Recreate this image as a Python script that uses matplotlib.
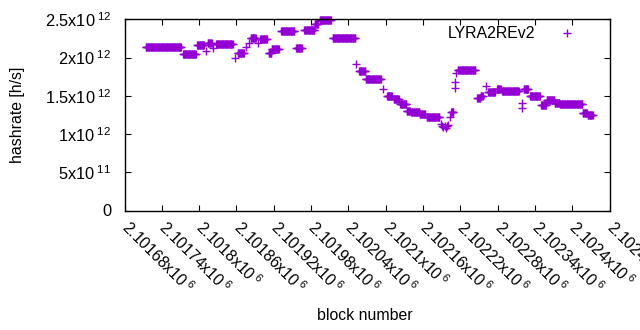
import numpy as np
import matplotlib
matplotlib.use("Agg")
import matplotlib.pyplot as plt
from matplotlib.ticker import FixedLocator, FuncFormatter

plt.rcParams['font.family'] = ['Liberation Sans', 'DejaVu Sans']
plt.rcParams['mathtext.fontset'] = 'custom'
plt.rcParams['mathtext.rm'] = 'Liberation Sans'
plt.rcParams['mathtext.it'] = 'Liberation Sans'
plt.rcParams['mathtext.bf'] = 'Liberation Sans'

# plateaus: start block, end block, hashrate (x1e12 h/s)
seg_start = [2101714, 2101774, 2101797, 2101814, 2101827, 2101862, 2101883, 2101898,
             2101912, 2101917, 2101932, 2101956, 2101969, 2101986, 2101994, 2102015,
             2102057, 2102068, 2102102, 2102113, 2102123, 2102134, 2102141, 2102155,
             2102166, 2102205, 2102216, 2102247, 2102253, 2102265, 2102279, 2102287,
             2102322, 2102332, 2102350, 2102359, 2102372, 2102380, 2102417, 2102425]
seg_end = [2101771, 2101795, 2101808, 2101820, 2101854, 2101872, 2101891, 2101909,
           2101916, 2101928, 2101953, 2101965, 2101985, 2101991, 2102012, 2102051,
           2102067, 2102092, 2102110, 2102121, 2102133, 2102139, 2102154, 2102163,
           2102186, 2102209, 2102244, 2102252, 2102256, 2102276, 2102285, 2102314,
           2102329, 2102348, 2102358, 2102371, 2102379, 2102416, 2102424, 2102433]
seg_value = [2.132, 2.040, 2.162, 2.184, 2.171, 2.053, 2.262, 2.236,
             2.053, 2.106, 2.345, 2.119, 2.358, 2.445, 2.490, 2.249,
             1.822, 1.714, 1.492, 1.452, 1.391, 1.300, 1.283, 1.257,
             1.217, 1.290, 1.835, 1.466, 1.500, 1.544, 1.591, 1.561,
             1.583, 1.496, 1.378, 1.443, 1.408, 1.391, 1.277, 1.247]

# isolated points
pt_block = [2101811, 2101822, 2101858, 2101876, 2101880, 2101895, 2102053, 2102096,
            2102189, 2102191, 2102193, 2102195, 2102197, 2102199, 2102201, 2102203,
            2102211, 2102211, 2102213, 2102262, 2102319, 2102319]
pt_value = [2.083, 2.119, 1.988, 2.140, 2.184, 2.184, 1.920, 1.583,
            1.13, 1.10, 1.09, 1.11, 1.08, 1.10, 1.12, 1.22,
            1.596, 1.682, 1.792, 1.626, 1.404, 1.339]

series_label = "LYRA2REv2"
x_title = "block number"
y_title = "hashrate [h/s]"
x_min, x_max, x_step = 2101680, 2102460, 60
y_ticks = [0, 0.5e12, 1.0e12, 1.5e12, 2.0e12, 2.5e12]

xs, ys = [], []
for s, e, v in zip(seg_start, seg_end, seg_value):
    b = np.arange(s, e + 1)
    xs.append(b)
    ys.append(np.full(len(b), v * 1e12))
xs.append(np.array(pt_block))
ys.append(np.array(pt_value) * 1e12)
x = np.concatenate(xs)
y = np.concatenate(ys)
order = np.argsort(x, kind='stable')
x, y = x[order], y[order]

fig = plt.figure(figsize=(6.4, 3.3), dpi=100)
ax = fig.add_axes([124.5 / 640, 1 - 210.5 / 330, 485 / 640, 191.2 / 330])

color = '#9400d3'
ax.plot(x, y, linestyle='none', marker='+', markersize=5.6, markeredgewidth=1.0,
        color=color, label=series_label, clip_on=False)

ax.set_xlim(x_min, x_max)
ax.set_ylim(0, 2.5e12)

ax.xaxis.set_major_locator(FixedLocator(np.arange(x_min, x_max + 1, x_step)))
ax.yaxis.set_major_locator(FixedLocator(y_ticks))


def xfmt(v, pos):
    return "%sx10$^{\\ 6}$" % ("%g" % (v / 1e6))


def yfmt(v, pos):
    if v == 0:
        return "0"
    exp = int(np.floor(np.log10(v)))
    mant = v / 10 ** exp
    return "%sx10$^{\\ %d}$" % ("%g" % mant, exp)


ax.xaxis.set_major_formatter(FuncFormatter(xfmt))
ax.yaxis.set_major_formatter(FuncFormatter(yfmt))

ax.tick_params(axis='both', direction='in', length=4, width=0.8,
               top=True, right=True, labelsize=11.3, colors='black')
ax.tick_params(axis='y', pad=9.5, labelsize=11.8)
ax.tick_params(axis='x', pad=10)
for lab in ax.get_xticklabels():
    lab.set_rotation(-45)
    lab.set_ha('left')
    lab.set_va('center')
    lab.set_rotation_mode('anchor')

for sp in ax.spines.values():
    sp.set_linewidth(1.0)
    sp.set_color('black')

fig.text(365 / 640, 1 - 316 / 330, x_title, fontsize=11.4, ha='center', va='center')
fig.text(18 / 640, 1 - 115 / 330, y_title, fontsize=11.4, ha='center', va='center',
         rotation=90)

leg = ax.legend(loc='upper right', markerfirst=False, frameon=False, fontsize=11.4,
                handlelength=1.0, handletextpad=1.5, borderaxespad=0.0,
                bbox_to_anchor=(581 / 640, 1 - 20 / 330), bbox_transform=fig.transFigure)

fig.savefig("out.png", dpi=100)
